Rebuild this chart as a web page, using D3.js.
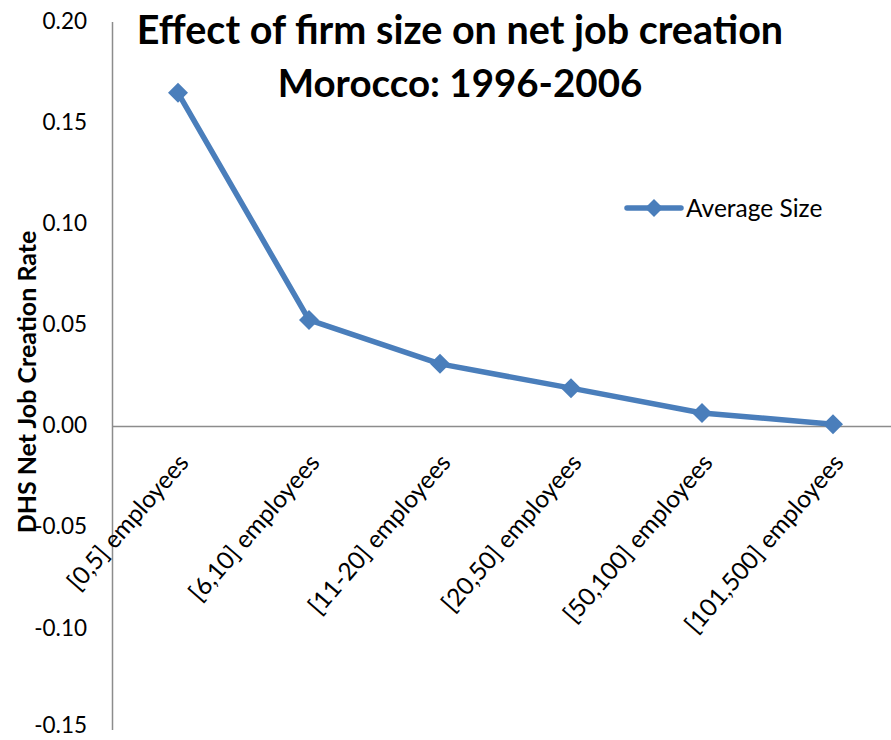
<!DOCTYPE html>
<html>
<head>
<meta charset="utf-8">
<script src="https://cdn.jsdelivr.net/npm/d3@7"></script>
<style>
  html, body { margin: 0; padding: 0; background: #fff; }
  svg text { font-family: Lato, "Open Sans", sans-serif; fill: #000; }
</style>
</head>
<body>
<svg id="chart" width="891" height="740"></svg>
<script>
// Firm-size classes and their net job creation rates
const categories = [
  "[0,5] employees",
  "[6,10] employees",
  "[11-20] employees",
  "[20,50] employees",
  "[50,100] employees",
  "[101,500] employees"
];
const averageSize = [0.165, 0.0527, 0.031, 0.019, 0.0067, 0.0012];
const yTicks = [-0.15, -0.10, -0.05, 0.00, 0.05, 0.10, 0.15, 0.20];
const titleLines = ["Effect of firm size on net job creation", "Morocco: 1996-2006"];
const titleSizes = [39.5, 38.5];
const seriesName = "Average Size";
const yTitle = "DHS Net Job Creation Rate";

const svg = d3.select("#chart");
const lineColor = "#4a7ebb";
const axisColor = "#8c8c8c";

const x = d3.scaleBand().domain(categories).range([112.5, 898.5]);
const y = d3.scaleLinear().domain([-0.15, 0.20]).range([730, 22]);
const cx = c => x(c) + x.bandwidth() / 2;

// vertical value axis
svg.append("line")
  .attr("x1", 112.5).attr("x2", 112.5)
  .attr("y1", y(0.20)).attr("y2", y(-0.15))
  .attr("stroke", axisColor).attr("stroke-width", 1.5);

// horizontal category axis at zero
svg.append("line")
  .attr("x1", 112.5).attr("x2", 891)
  .attr("y1", y(0)).attr("y2", y(0))
  .attr("stroke", axisColor).attr("stroke-width", 1.5);

// value tick labels (plain hyphen for negatives); the lowest one is kept inside the frame
const fmt = d => d3.format(".2f")(d).replace("\u2212", "-");
svg.append("g").selectAll("text").data(yTicks).join("text")
  .attr("x", 87).attr("y", d => Math.min(y(d), 726))
  .attr("dy", "0.3em")
  .attr("text-anchor", "end")
  .attr("font-size", 22.5)
  .text(fmt);

// category labels, rotated
svg.append("g").selectAll("text").data(categories).join("text")
  .attr("transform", d => `translate(${cx(d) + 12},${y(0) + 37}) rotate(-49)`)
  .attr("text-anchor", "end")
  .attr("font-size", 24.5)
  .text(d => d);

// axis title
svg.append("text")
  .attr("transform", `translate(36,382) rotate(-90)`)
  .attr("text-anchor", "middle")
  .attr("font-size", 25)
  .attr("font-weight", "bold")
  .text(yTitle);

// chart title
svg.append("g").selectAll("text").data(titleLines).join("text")
  .attr("x", 460)
  .attr("y", (d, i) => 44 + i * 53)
  .attr("text-anchor", "middle")
  .attr("font-size", (d, i) => titleSizes[i])
  .attr("font-weight", "bold")
  .text(d => d);

// data line
const pts = categories.map((c, i) => [cx(c), y(averageSize[i])]);
svg.append("path")
  .attr("d", d3.line()(pts))
  .attr("fill", "none")
  .attr("stroke", lineColor)
  .attr("stroke-width", 5.5)
  .attr("stroke-linejoin", "round");

const diamond = (r) => `M0,${-r}L${r},0L0,${r}L${-r},0Z`;
svg.append("g").selectAll("path").data(pts).join("path")
  .attr("transform", d => `translate(${d[0]},${d[1]})`)
  .attr("d", diamond(10))
  .attr("fill", lineColor);

// legend
const lg = svg.append("g").attr("transform", "translate(626,208)");
lg.append("line").attr("x1", 1).attr("x2", 55).attr("y1", 0).attr("y2", 0)
  .attr("stroke", lineColor).attr("stroke-width", 5.5).attr("stroke-linecap", "round");
lg.append("path").attr("transform", "translate(28,0)").attr("d", diamond(9)).attr("fill", lineColor);
lg.append("text").attr("x", 60).attr("y", 0).attr("dy", "0.36em")
  .attr("font-size", 24.5).text(seriesName);
</script>
</body>
</html>
